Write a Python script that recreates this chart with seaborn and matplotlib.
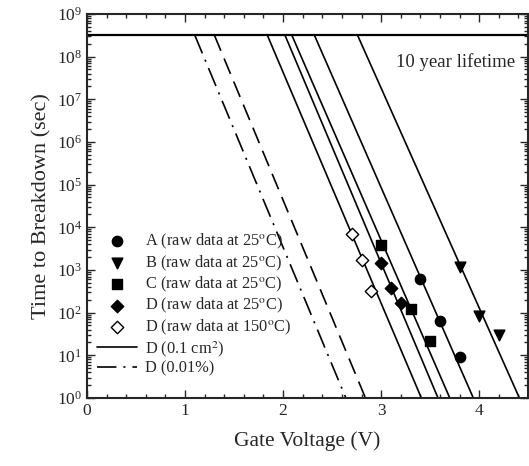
import numpy as np
import pandas as pd
import matplotlib
matplotlib.use('Agg')
import matplotlib.pyplot as plt
from matplotlib.ticker import MultipleLocator, LogLocator, NullFormatter
import seaborn as sns

# raw breakdown data: gate voltage (V) and time to breakdown (s)
a_volts = [3.4, 3.6, 3.8]
a_times = [600, 62, 9]
b_volts = [3.8, 4.0, 4.2]
b_times = [1200, 83, 30]
c_volts = [3.0, 3.3, 3.5]
c_times = [3800, 120, 22]
d25_volts = [3.0, 3.1, 3.2]
d25_times = [1450, 370, 170]
d150_volts = [2.7, 2.8, 2.9]
d150_times = [7000, 1700, 330]

ten_years = 3.15e8

# extrapolated lines: voltage at the 10 year level and at 1 s
fit_v_top = [1.10, 1.30, 1.84, 2.02, 2.09, 2.32, 2.76]
fit_v_bottom = [2.64, 2.84, 3.41, 3.58, 3.70, 3.94, 4.41]
fit_t_top = ten_years
fit_t_bottom = 1.0

sns.set_style('ticks')
plt.rcParams['font.family'] = ['Liberation Serif', 'DejaVu Serif']
plt.rcParams['mathtext.fontset'] = 'stix'
plt.rcParams['lines.scale_dashes'] = False

fig = plt.figure(figsize=(5.29, 4.66), dpi=100)
ax = fig.add_axes([0.1645, 0.146, 0.834, 0.824])

raw = [
    (a_volts, a_times, 'o', 'black', 55, 'A (raw data at 25$^{\\rm o}$C)'),
    (b_volts, b_times, 'v', 'black', 60, 'B (raw data at 25$^{\\rm o}$C)'),
    (c_volts, c_times, 's', 'black', 45, 'C (raw data at 25$^{\\rm o}$C)'),
    (d25_volts, d25_times, 'D', 'black', 40, 'D (raw data at 25$^{\\rm o}$C)'),
    (d150_volts, d150_times, 'D', 'white', 40, 'D (raw data at 150$^{\\rm o}$C)'),
]
for volts, times, mk, fc, size, lab in raw:
    df = pd.DataFrame({'V': volts, 't': times})
    sns.scatterplot(data=df, x='V', y='t', marker=mk, s=size, color=fc,
                    edgecolor='black', linewidth=1.0, label=lab, ax=ax, zorder=3)

styles = [(0, (14, 5, 1.5, 5)), (0, (12, 6)), '-', '-', '-', '-', '-']
labels = ['D (0.01%)', None, None, 'D (0.1 cm$^2$)', None, None, None]
for vt, vb, ls, lab in zip(fit_v_top, fit_v_bottom, styles, labels):
    line = pd.DataFrame({'V': [vt, vb], 't': [fit_t_top, fit_t_bottom]})
    sns.lineplot(data=line, x='V', y='t', color='black', lw=1.2,
                 linestyle=ls, label=lab, ax=ax, sort=False)

ax.axhline(ten_years, color='black', lw=1.6)
ax.text(0.97, 0.875, '10 year lifetime', transform=ax.transAxes,
        ha='right', va='center', fontsize=13.5)

ax.set_yscale('log')
ax.set_xlim(0, 4.5)
ax.set_ylim(1, 1e9)
ax.xaxis.set_major_locator(MultipleLocator(1))
ax.xaxis.set_minor_locator(MultipleLocator(0.2))
ax.yaxis.set_major_locator(LogLocator(base=10, numticks=20))
ax.yaxis.set_minor_locator(LogLocator(base=10, subs=np.arange(2, 10), numticks=20))
ax.yaxis.set_minor_formatter(NullFormatter())
ax.tick_params(which='both', direction='in', top=True, right=True, labelsize=12.5, width=1.0)
ax.tick_params(which='major', length=6)
ax.tick_params(which='minor', length=3)
for sp in ax.spines.values():
    sp.set_linewidth(1.5)

ax.set_xlabel('Gate Voltage (V)', fontsize=15.5, labelpad=9)
ax.set_ylabel('Time to Breakdown (sec)', fontsize=16, labelpad=4)

handles, labs = ax.get_legend_handles_labels()
lookup = dict(zip(labs, handles))
order = [r[5] for r in raw] + ['D (0.1 cm$^2$)', 'D (0.01%)']
ax.legend([lookup[k] for k in order], order, loc='lower left',
          bbox_to_anchor=(0.023, 0.055), frameon=False, fontsize=11.8,
          handlelength=2.4, handletextpad=0.5, labelspacing=0.13,
          borderaxespad=0, borderpad=0)

fig.savefig('out.png', dpi=100)
